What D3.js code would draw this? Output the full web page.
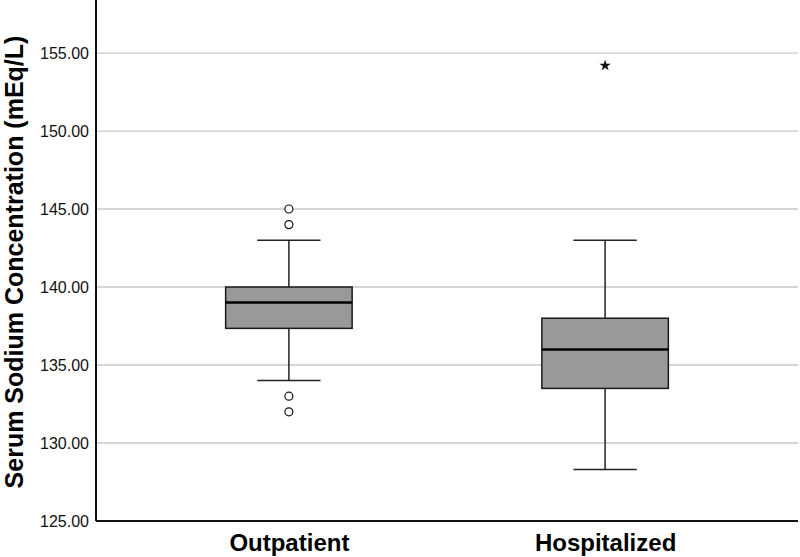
<!DOCTYPE html>
<html lang="en">
<head>
<meta charset="UTF-8" />
<title>Serum sodium box plot</title>
<script src="https://d3js.org/d3.v7.min.js"></script>
<style>
  body { margin: 0; background: #fff; }
  text { font-family: "Liberation Sans", Arial, sans-serif; }
  .grid line { stroke: #c8c8c8; stroke-width: 1.3; }
  .box { fill: #999999; stroke: #1a1a1a; stroke-width: 1.5; }
</style>
</head>
<body>
<script>
// groups and their box statistics
var groups = ["Outpatient", "Hospitalized"];
var q1 = [137.35, 133.5];
var median = [139, 136];
var q3 = [140, 138];
var whiskLow = [134, 128.3];
var whiskHigh = [143, 143];
// mild outliers (circles) and extreme outliers (stars)
var outliers = [[145, 144, 133, 132], []];
var extremes = [[], [154.2]];
var yTicks = [125, 130, 135, 140, 145, 150, 155];

var width = 800, height = 557;
var plotLeft = 96, plotRight = 798, plotTop = 0, plotBottom = 521;

var svg = d3.select("body").append("svg").attr("width", width).attr("height", height);

var y = d3.scaleLinear().domain([125, 158.4]).range([plotBottom, plotTop]);
var x = d3.scalePoint().domain(groups).range([plotLeft, plotRight]).padding(0.61);
var step = x.step();
var boxW = step * 0.4, capW = step * 0.2;

// gridlines
svg.append("g").attr("class", "grid")
  .selectAll("line").data(yTicks.filter(function(d) { return d > 125; })).enter()
  .append("line")
  .attr("x1", plotLeft).attr("x2", plotRight)
  .attr("y1", function(d) { return y(d); }).attr("y2", function(d) { return y(d); });

// y axis
var yAxis = d3.axisLeft(y).tickValues(yTicks).tickFormat(d3.format(".2f")).tickSize(0).tickPadding(7);
var gy = svg.append("g").attr("transform", "translate(" + plotLeft + ",0)").call(yAxis);
gy.select(".domain").remove();
gy.selectAll("text").attr("font-size", 16).attr("fill", "#111").style("font-family", "Liberation Sans, Arial, sans-serif");

// x axis labels
var xAxis = d3.axisBottom(x).tickSize(0).tickPadding(13);
var gx = svg.append("g").attr("transform", "translate(0," + plotBottom + ")").call(xAxis);
gx.select(".domain").remove();
gx.selectAll("text").attr("font-size", 24).attr("font-weight", "bold").attr("fill", "#000")
  .style("font-family", "Liberation Sans, Arial, sans-serif");

// axis lines
svg.append("line").attr("x1", plotLeft).attr("x2", plotLeft).attr("y1", 0).attr("y2", plotBottom)
  .attr("stroke", "#111").attr("stroke-width", 2);
svg.append("line").attr("x1", plotLeft).attr("x2", plotRight).attr("y1", plotBottom).attr("y2", plotBottom)
  .attr("stroke", "#111").attr("stroke-width", 2);

// y title
svg.append("text")
  .attr("transform", "translate(23,262) rotate(-90)")
  .attr("text-anchor", "middle")
  .attr("font-size", 25).attr("font-weight", "bold")
  .text("Serum Sodium Concentration (mEq/L)");

// boxes
groups.forEach(function(g, i) {
  var cx = x(g);
  var gg = svg.append("g");
  // whiskers
  gg.append("line").attr("x1", cx).attr("x2", cx).attr("y1", y(whiskHigh[i])).attr("y2", y(q3[i]))
    .attr("stroke", "#222").attr("stroke-width", 1.5);
  gg.append("line").attr("x1", cx).attr("x2", cx).attr("y1", y(q1[i])).attr("y2", y(whiskLow[i]))
    .attr("stroke", "#222").attr("stroke-width", 1.5);
  [whiskHigh[i], whiskLow[i]].forEach(function(v) {
    gg.append("line").attr("x1", cx - capW / 2).attr("x2", cx + capW / 2).attr("y1", y(v)).attr("y2", y(v))
      .attr("stroke", "#222").attr("stroke-width", 1.5);
  });
  gg.append("rect").attr("class", "box")
    .attr("x", cx - boxW / 2).attr("width", boxW)
    .attr("y", y(q3[i])).attr("height", y(q1[i]) - y(q3[i]));
  gg.append("line").attr("x1", cx - boxW / 2).attr("x2", cx + boxW / 2)
    .attr("y1", y(median[i])).attr("y2", y(median[i]))
    .attr("stroke", "#000").attr("stroke-width", 2.5);
  gg.selectAll("circle").data(outliers[i]).enter().append("circle")
    .attr("cx", cx).attr("cy", function(d) { return y(d); }).attr("r", 4)
    .attr("fill", "#fff").attr("stroke", "#111").attr("stroke-width", 1.2);
  gg.selectAll("path.star").data(extremes[i]).enter().append("path")
    .attr("class", "star")
    .attr("transform", function(d) { return "translate(" + cx + "," + y(d) + ")"; })
    .attr("d", d3.symbol().type(d3.symbolStar).size(40))
    .attr("fill", "#111");
});
</script>
</body>
</html>
